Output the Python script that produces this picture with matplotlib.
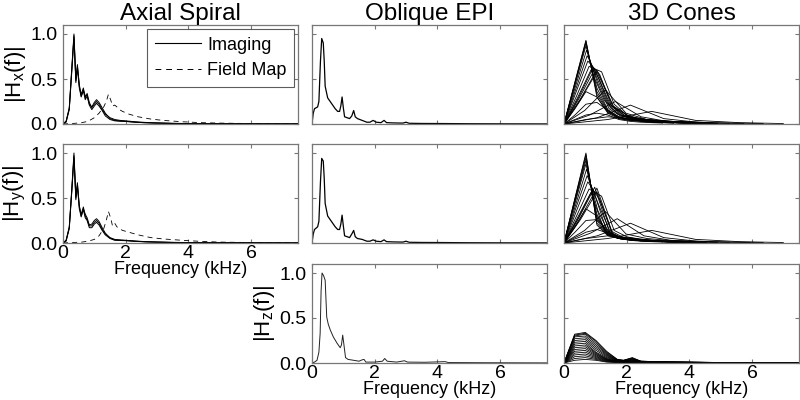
import numpy as np
import matplotlib
matplotlib.use("Agg")
import matplotlib.pyplot as plt

plt.rcParams['font.family'] = ['Liberation Sans', 'DejaVu Sans']
plt.rcParams['mathtext.default'] = 'regular'

# ---------------- data (kHz, normalised magnitude) ----------------
# Axial spiral, imaging gradients (three overlapping traces)
sp_f = [0, 0.1, 0.2, 0.28, 0.35, 0.41, 0.46, 0.52, 0.58, 0.65, 0.71, 0.77, 0.84,
        0.92, 1.0, 1.07, 1.15, 1.25, 1.35, 1.5, 1.65, 1.82, 2.0, 2.3, 2.6, 3.0,
        3.5, 4.0, 5.0, 6.0, 7.5]
sp_hx = [
    [0, 0.03, 0.18, 0.62, 1.00, 0.48, 0.66, 0.42, 0.33, 0.40, 0.29, 0.34, 0.24,
     0.18, 0.22, 0.25, 0.22, 0.16, 0.11, 0.07, 0.05, 0.04, 0.035, 0.025, 0.018,
     0.012, 0.008, 0.005, 0.003, 0.002, 0.001],
    [0, 0.03, 0.17, 0.60, 0.98, 0.50, 0.64, 0.44, 0.31, 0.38, 0.31, 0.32, 0.22,
     0.19, 0.24, 0.27, 0.24, 0.18, 0.12, 0.06, 0.04, 0.035, 0.03, 0.02, 0.015,
     0.01, 0.006, 0.004, 0.003, 0.002, 0.001],
    [0, 0.02, 0.16, 0.58, 0.96, 0.46, 0.62, 0.40, 0.30, 0.37, 0.27, 0.31, 0.21,
     0.16, 0.20, 0.23, 0.20, 0.15, 0.09, 0.05, 0.035, 0.03, 0.028, 0.02, 0.014,
     0.01, 0.006, 0.004, 0.003, 0.002, 0.001],
]
sp_hy = [
    [0, 0.03, 0.18, 0.60, 1.00, 0.50, 0.67, 0.40, 0.32, 0.40, 0.30, 0.26, 0.19,
     0.19, 0.23, 0.25, 0.22, 0.15, 0.10, 0.06, 0.04, 0.035, 0.03, 0.022, 0.016,
     0.011, 0.007, 0.005, 0.003, 0.002, 0.001],
    [0, 0.03, 0.17, 0.58, 0.97, 0.52, 0.65, 0.42, 0.30, 0.38, 0.32, 0.28, 0.20,
     0.21, 0.25, 0.27, 0.24, 0.17, 0.11, 0.055, 0.035, 0.03, 0.028, 0.02, 0.014,
     0.01, 0.006, 0.004, 0.003, 0.002, 0.001],
    [0, 0.02, 0.16, 0.57, 0.95, 0.48, 0.63, 0.38, 0.29, 0.37, 0.28, 0.25, 0.17,
     0.17, 0.21, 0.23, 0.20, 0.14, 0.09, 0.05, 0.03, 0.028, 0.026, 0.018, 0.013,
     0.009, 0.006, 0.004, 0.003, 0.002, 0.001],
]
# Axial spiral, field map gradients
fm_f = [0, 0.3, 0.6, 0.8, 1.0, 1.15, 1.3, 1.38, 1.45, 1.52, 1.58, 1.65, 1.72,
        1.8, 1.9, 2.1, 2.4, 2.8, 3.2, 3.8, 4.4, 5.0, 6.0, 7.5]
fm_hx = [0, 0.005, 0.015, 0.03, 0.07, 0.12, 0.19, 0.25, 0.33, 0.27, 0.20, 0.21,
         0.19, 0.16, 0.14, 0.11, 0.08, 0.055, 0.04, 0.025, 0.015, 0.01, 0.005, 0.002]
fm_hy = [0, 0.005, 0.01, 0.02, 0.04, 0.08, 0.16, 0.25, 0.35, 0.28, 0.19, 0.22,
         0.18, 0.16, 0.14, 0.12, 0.09, 0.06, 0.045, 0.03, 0.018, 0.01, 0.005, 0.002]

# Oblique EPI
epi_x_f = [0, 0.04, 0.08, 0.18, 0.22, 0.27, 0.31, 0.36, 0.39, 0.42, 0.5, 0.58, 0.66,
           0.74, 0.82, 0.88, 0.92, 0.96, 1.0, 1.04, 1.12, 1.2, 1.27, 1.33, 1.38,
           1.45, 1.6, 1.75, 1.85, 1.95, 2.05, 2.2, 2.3, 2.38, 2.6, 2.9, 3.0, 3.1,
           3.5, 4.2, 5.0, 6.0, 7.5]
epi_x = [0, 0.12, 0.17, 0.19, 0.25, 0.70, 0.95, 0.90, 0.70, 0.42, 0.29, 0.25, 0.21,
         0.17, 0.14, 0.14, 0.20, 0.30, 0.18, 0.08, 0.07, 0.06, 0.09, 0.15, 0.08,
         0.06, 0.04, 0.02, 0.02, 0.04, 0.02, 0.015, 0.04, 0.015, 0.012, 0.01, 0.02,
         0.008, 0.006, 0.005, 0.003, 0.002, 0.001]
epi_y = [0, 0.10, 0.15, 0.18, 0.24, 0.68, 0.94, 0.91, 0.72, 0.44, 0.30, 0.26, 0.22,
         0.18, 0.15, 0.15, 0.21, 0.31, 0.19, 0.08, 0.07, 0.06, 0.10, 0.14, 0.07,
         0.05, 0.04, 0.02, 0.02, 0.035, 0.02, 0.015, 0.035, 0.015, 0.012, 0.01, 0.02,
         0.008, 0.006, 0.005, 0.003, 0.002, 0.001]
epi_z_f = [0, 0.08, 0.16, 0.22, 0.26, 0.29, 0.32, 0.37, 0.42, 0.47, 0.52, 0.58, 0.68,
           0.8, 0.9, 0.94, 0.98, 1.02, 1.07, 1.15, 1.33, 1.5, 1.6, 1.66, 1.72, 2.0,
           2.25, 2.32, 2.4, 2.7, 2.95, 3.05, 3.6, 4.25, 4.35, 5.5, 7.5]
epi_z = [0, 0.01, 0.03, 0.12, 0.33, 0.80, 1.00, 0.97, 0.92, 0.51, 0.43, 0.37, 0.29,
         0.22, 0.17, 0.20, 0.31, 0.20, 0.06, 0.04, 0.03, 0.02, 0.035, 0.04, 0.01,
         0.01, 0.02, 0.05, 0.02, 0.01, 0.025, 0.01, 0.008, 0.015, 0.005, 0.003, 0.001]

# 3D cones: one trace per cone, (sample spacing in kHz, magnitudes after f=0)
cones_hx = [
    (0.35, [0.47, 0.93, 0.30, 0.13, 0.07, 0.05, 0.035, 0.025, 0.02, 0.015, 0.01, 0.008, 0.006, 0.005]),
    (0.35, [0.46, 0.92, 0.33, 0.14, 0.07, 0.05, 0.035, 0.025, 0.02, 0.015, 0.01, 0.008, 0.006, 0.005]),
    (0.35, [0.45, 0.90, 0.36, 0.15, 0.08, 0.05, 0.04, 0.03, 0.02, 0.015, 0.01, 0.008, 0.006, 0.005]),
    (0.35, [0.43, 0.87, 0.40, 0.16, 0.08, 0.05, 0.04, 0.03, 0.02, 0.015, 0.01, 0.008, 0.006, 0.005]),
    (0.36, [0.41, 0.82, 0.45, 0.17, 0.09, 0.06, 0.04, 0.03, 0.02, 0.015, 0.01, 0.008, 0.006]),
    (0.37, [0.38, 0.76, 0.50, 0.18, 0.09, 0.06, 0.04, 0.03, 0.02, 0.015, 0.01, 0.008]),
    (0.38, [0.35, 0.70, 0.55, 0.20, 0.10, 0.06, 0.04, 0.03, 0.02, 0.015, 0.01, 0.008]),
    (0.40, [0.31, 0.64, 0.58, 0.22, 0.10, 0.06, 0.04, 0.03, 0.02, 0.015, 0.01]),
    (0.43, [0.29, 0.60, 0.26, 0.11, 0.06, 0.04, 0.03, 0.02, 0.015, 0.01]),
    (0.46, [0.29, 0.62, 0.24, 0.10, 0.06, 0.04, 0.03, 0.02, 0.015, 0.01]),
    (0.49, [0.29, 0.61, 0.22, 0.09, 0.05, 0.04, 0.03, 0.02, 0.015]),
    (0.525, [0.28, 0.60, 0.20, 0.08, 0.05, 0.035, 0.025, 0.02, 0.015]),
    (0.525, [0.27, 0.58, 0.19, 0.08, 0.05, 0.035, 0.025, 0.02, 0.015]),
    (0.66, [0.15, 0.38, 0.12, 0.05, 0.03, 0.02, 0.01, 0.008]),
    (0.82, [0.10, 0.25, 0.08, 0.03, 0.02, 0.01, 0.005]),
    (1.06, [0.07, 0.21, 0.06, 0.02, 0.01, 0.005]),
    (1.40, [0.05, 0.14, 0.04, 0.015, 0.005]),
    (0.35, [0.17, 0.36, 0.30, 0.12, 0.06, 0.04, 0.03, 0.02, 0.015, 0.01]),
    (0.35, [0.10, 0.22, 0.24, 0.15, 0.06, 0.04, 0.03, 0.02, 0.015, 0.01]),
    (0.35, [0.05, 0.10, 0.12, 0.10, 0.05, 0.03, 0.02, 0.015, 0.01]),
    (0.70, [0.05, 0.08, 0.06, 0.03, 0.015, 0.01, 0.005]),
]
cones_hy = [
    (0.35, [0.50, 1.00, 0.20, 0.08, 0.05, 0.035, 0.025, 0.02, 0.015, 0.01, 0.008, 0.006, 0.005]),
    (0.35, [0.49, 0.98, 0.22, 0.09, 0.05, 0.035, 0.025, 0.02, 0.015, 0.01, 0.008, 0.006, 0.005]),
    (0.35, [0.48, 0.95, 0.25, 0.09, 0.05, 0.035, 0.025, 0.02, 0.015, 0.01, 0.008, 0.006, 0.005]),
    (0.35, [0.46, 0.92, 0.28, 0.10, 0.05, 0.035, 0.025, 0.02, 0.015, 0.01, 0.008, 0.006, 0.005]),
    (0.35, [0.44, 0.88, 0.32, 0.10, 0.05, 0.035, 0.025, 0.02, 0.015, 0.01, 0.008, 0.006]),
    (0.36, [0.41, 0.82, 0.36, 0.11, 0.06, 0.04, 0.03, 0.02, 0.015, 0.01, 0.008]),
    (0.37, [0.38, 0.75, 0.42, 0.12, 0.06, 0.04, 0.03, 0.02, 0.015, 0.01, 0.008]),
    (0.38, [0.34, 0.68, 0.48, 0.13, 0.06, 0.04, 0.03, 0.02, 0.015, 0.01]),
    (0.40, [0.30, 0.60, 0.52, 0.14, 0.07, 0.04, 0.03, 0.02, 0.015, 0.01]),
    (0.43, [0.28, 0.56, 0.14, 0.07, 0.04, 0.03, 0.02, 0.015, 0.01]),
    (0.46, [0.28, 0.60, 0.12, 0.06, 0.04, 0.03, 0.02, 0.015, 0.01]),
    (0.49, [0.29, 0.62, 0.10, 0.05, 0.035, 0.025, 0.02, 0.015]),
    (0.525, [0.28, 0.61, 0.08, 0.05, 0.035, 0.025, 0.02, 0.015]),
    (0.525, [0.26, 0.57, 0.07, 0.045, 0.03, 0.02, 0.015, 0.01]),
    (0.66, [0.14, 0.35, 0.10, 0.05, 0.03, 0.02, 0.01, 0.008]),
    (0.85, [0.11, 0.27, 0.08, 0.03, 0.02, 0.01, 0.005]),
    (1.06, [0.08, 0.22, 0.06, 0.02, 0.01, 0.005]),
    (1.40, [0.05, 0.14, 0.04, 0.015, 0.005]),
    (0.35, [0.18, 0.38, 0.30, 0.10, 0.05, 0.04, 0.03, 0.02, 0.015, 0.01]),
    (0.35, [0.12, 0.25, 0.26, 0.14, 0.06, 0.04, 0.03, 0.02, 0.015, 0.01]),
    (0.35, [0.06, 0.12, 0.15, 0.11, 0.05, 0.03, 0.02, 0.015, 0.01]),
    (0.70, [0.05, 0.08, 0.06, 0.03, 0.015, 0.01, 0.005]),
]
cz_f = [0, 0.34, 0.68, 1.02, 1.36, 1.70, 1.90, 2.18, 2.45, 3.0, 4.0, 5.5, 7.5]
cones_hz = [
    [0, 0.32, 0.34, 0.25, 0.13, 0.04, 0.03, 0.06, 0.02, 0.015, 0.01, 0.003, 0.001],
    [0, 0.31, 0.33, 0.24, 0.12, 0.04, 0.03, 0.055, 0.02, 0.014, 0.01, 0.003, 0.001],
    [0, 0.30, 0.32, 0.22, 0.11, 0.035, 0.028, 0.05, 0.02, 0.013, 0.009, 0.003, 0.001],
    [0, 0.29, 0.30, 0.20, 0.10, 0.03, 0.025, 0.045, 0.018, 0.012, 0.008, 0.003, 0.001],
    [0, 0.27, 0.28, 0.18, 0.09, 0.03, 0.022, 0.04, 0.016, 0.011, 0.008, 0.003, 0.001],
    [0, 0.25, 0.26, 0.16, 0.08, 0.025, 0.02, 0.035, 0.015, 0.01, 0.007, 0.002, 0.001],
    [0, 0.23, 0.24, 0.14, 0.07, 0.022, 0.018, 0.03, 0.013, 0.009, 0.006, 0.002, 0.001],
    [0, 0.21, 0.22, 0.12, 0.06, 0.02, 0.016, 0.026, 0.012, 0.008, 0.005, 0.002, 0.001],
    [0, 0.19, 0.20, 0.11, 0.05, 0.018, 0.014, 0.022, 0.01, 0.007, 0.005, 0.002, 0.001],
    [0, 0.17, 0.18, 0.10, 0.045, 0.016, 0.012, 0.02, 0.009, 0.006, 0.004, 0.002, 0.001],
    [0, 0.15, 0.16, 0.09, 0.04, 0.014, 0.01, 0.017, 0.008, 0.005, 0.004, 0.001, 0.001],
    [0, 0.13, 0.14, 0.08, 0.035, 0.012, 0.009, 0.015, 0.007, 0.005, 0.003, 0.001, 0.001],
    [0, 0.11, 0.12, 0.07, 0.03, 0.01, 0.008, 0.012, 0.006, 0.004, 0.003, 0.001, 0.001],
    [0, 0.09, 0.10, 0.06, 0.025, 0.009, 0.007, 0.01, 0.005, 0.004, 0.002, 0.001, 0.001],
    [0, 0.07, 0.08, 0.05, 0.02, 0.008, 0.006, 0.008, 0.004, 0.003, 0.002, 0.001, 0.001],
    [0, 0.05, 0.06, 0.04, 0.015, 0.006, 0.005, 0.006, 0.003, 0.002, 0.002, 0.001, 0.001],
    [0, 0.03, 0.04, 0.03, 0.01, 0.005, 0.004, 0.004, 0.002, 0.002, 0.001, 0.001, 0.001],
]

titles = ['Axial Spiral', 'Oblique EPI', '3D Cones']
ylabels = [r'|H$_x$(f)|', r'|H$_y$(f)|', r'|H$_z$(f)|']
xticks = [0, 2, 4, 6]
yticks = [0, 0.5, 1.0]

# ---------------- figure ----------------
fig = plt.figure(figsize=(8, 4), dpi=100)
W, H = 800.0, 400.0
lefts = [63, 312, 564]
tops = [25, 144, 264]
aw, ah = 235, 99

axes = {}
for r in range(3):
    for c in range(3):
        if r == 2 and c == 0:
            continue
        ax = fig.add_axes([lefts[c] / W, 1 - (tops[r] + ah) / H, aw / W, ah / H])
        axes[r, c] = ax

lw = 0.7
def cone(ax, df, vals):
    f = df * np.arange(len(vals) + 1)
    ax.plot(f, [0] + vals, color='black', lw=0.6)

# spiral
for v in sp_hx:
    axes[0, 0].plot(sp_f, v, color='black', lw=lw)
axes[0, 0].plot(fm_f, fm_hx, color='black', lw=0.6, dashes=(6, 5))
for v in sp_hy:
    axes[1, 0].plot(sp_f, v, color='black', lw=lw)
axes[1, 0].plot(fm_f, fm_hy, color='black', lw=0.6, dashes=(6, 5))

# EPI
axes[0, 1].plot(epi_x_f, epi_x, color='black', lw=0.9)
axes[1, 1].plot(epi_x_f, epi_y, color='black', lw=0.9)
axes[2, 1].plot(epi_z_f, epi_z, color='#222222', lw=0.7)

# cones
for df, vals in cones_hx:
    cone(axes[0, 2], df, vals)
for df, vals in cones_hy:
    cone(axes[1, 2], df, vals)
for v in cones_hz:
    axes[2, 2].plot(cz_f, v, color='black', lw=0.6)

# legend
h1, = axes[0, 0].plot([], [], color='black', lw=0.8)
h2, = axes[0, 0].plot([], [], color='black', lw=0.7, dashes=(6, 5))
leg = axes[0, 0].legend([h1, h2], ['Imaging', 'Field Map'], loc='upper right',
                        fontsize=13, frameon=True, fancybox=False,
                        borderaxespad=0.2, handlelength=2.5, handletextpad=0.35,
                        borderpad=0.45, labelspacing=0.45)
leg.get_frame().set_edgecolor('#333333')
leg.get_frame().set_linewidth(0.8)

for (r, c), ax in axes.items():
    ax.set_xlim(0, 7.5)
    ax.set_ylim(0, 1.1)
    ax.set_xticks(xticks)
    ax.set_yticks(yticks)
    ax.set_yticklabels(['0.0', '0.5', '1.0'])
    for lab in ax.get_yticklabels():
        lab.set_verticalalignment('center_baseline')
    ax.tick_params(direction='in', top=True, right=True, length=3,
                   color='#777777', labelsize=14)
    ax.tick_params(axis='y', pad=4)
    ax.tick_params(axis='x', pad=1.5)
    for s in ax.spines.values():
        s.set_color('#777777')
        s.set_linewidth(0.9)
    first_col = (c == 0) or (r == 2 and c == 1)
    bottom = (r == 2) or (r == 1 and c == 0)
    if first_col:
        ax.set_ylabel(ylabels[r], fontsize=16, labelpad=2)
    else:
        ax.tick_params(labelleft=False)
    if bottom:
        ax.set_xlabel('Frequency (kHz)', fontsize=13, labelpad=-0.5)
    else:
        ax.tick_params(labelbottom=False)
    if r == 0:
        ax.set_title(titles[c], fontsize=17.5, pad=3)

fig.savefig('out.png', dpi=100)
